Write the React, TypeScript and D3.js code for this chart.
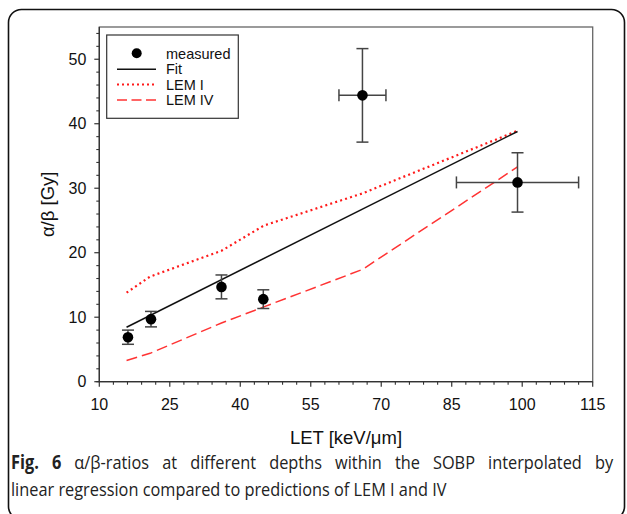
import React from "react";
import * as d3 from "d3";

const measuredLET = [16.1, 21.0, 36.0, 44.9, 66.0, 99.0];
const measuredAB = [6.9, 9.7, 14.7, 12.8, 44.4, 30.9];
const abErr = [1.1, 1.2, 1.85, 1.45, 7.25, 4.6];
const letErr = [0, 0, 0, 0, 5.0, 13.0];

const fitLET = [15.8, 99.0];
const fitAB = [8.45, 38.8];

const lemLET = [15.8, 20.8, 36.0, 45.0, 66.0, 99.0];
const lemI = [13.8, 16.3, 20.3, 24.2, 29.2, 38.9];
const lemIV = [3.3, 4.4, 9.1, 11.6, 17.4, 33.3];

const xMajor = [10, 25, 40, 55, 70, 85, 100, 115];
const yMajor = [0, 10, 20, 30, 40, 50];

const legendLabels = ["measured", "Fit", "LEM I", "LEM IV"];

const W = 627;
const H = 514;
const left = 99.3;
const right = 592.7;
const top = 27;
const bottom = 381.7;

export default function App() {
  const x = d3.scaleLinear().domain([10, 115]).range([left, right]);
  const y = d3.scaleLinear().domain([0, 55]).range([bottom, top]);

  const xMinor = d3.range(10, 115.01, 3).filter((v) => !xMajor.includes(v));
  const yMinor = d3.range(0, 55.01, 2).filter((v) => !yMajor.includes(v));

  const line = d3
    .line<[number, number]>()
    .x((d) => x(d[0]))
    .y((d) => y(d[1]));

  const fitPts: [number, number][] = fitLET.map((v, i) => [v, fitAB[i]]);
  const lemIPts: [number, number][] = lemLET.map((v, i) => [v, lemI[i]]);
  const lemIVPts: [number, number][] = lemLET.map((v, i) => [v, lemIV[i]]);

  const font = "Liberation Sans, Arial, sans-serif";
  const errColor = "#444";
  const sx = 0.86;

  return (
    <svg
      width={W}
      height={H}
      style={{ position: "absolute", left: 0, top: 0, background: "#fff" }}
    >
      <rect x={0} y={0} width={W} height={H} fill="#fff" />
      {/* outer rounded border */}
      <rect
        x={8.5}
        y={9.5}
        width={616}
        height={510}
        rx={13}
        ry={13}
        fill="none"
        stroke="#111"
        strokeWidth={1.6}
      />
      {/* frame */}
      <rect
        x={left}
        y={top}
        width={right - left}
        height={bottom - top}
        fill="none"
        stroke="#666"
        strokeWidth={1.3}
      />
      <line x1={left} x2={left} y1={top} y2={bottom} stroke="#333" strokeWidth={1.3} />
      <line x1={left - 3} x2={right} y1={bottom} y2={bottom} stroke="#333" strokeWidth={1.3} />

      {/* x ticks */}
      {xMajor.map((v) => (
        <g key={"xm" + v}>
          <line x1={x(v)} x2={x(v)} y1={bottom} y2={bottom + 5} stroke="#333" strokeWidth={1.2} />
          <text
            x={x(v)}
            y={bottom + 28}
            textAnchor="middle"
            fontFamily={font}
            fontSize={16}
            fill="#111"
          >
            {v}
          </text>
        </g>
      ))}
      {xMinor.map((v) => (
        <line key={"xn" + v} x1={x(v)} x2={x(v)} y1={bottom} y2={bottom + 3} stroke="#333" strokeWidth={1.1} />
      ))}

      {/* y ticks */}
      {yMajor.map((v) => (
        <g key={"ym" + v}>
          <line x1={left - 5} x2={left} y1={y(v)} y2={y(v)} stroke="#333" strokeWidth={1.2} />
          <text
            x={left - 13}
            y={y(v) + 5.5}
            textAnchor="end"
            fontFamily={font}
            fontSize={16}
            fill="#111"
          >
            {v}
          </text>
        </g>
      ))}
      {yMinor.map((v) => (
        <line key={"yn" + v} x1={left - 3} x2={left} y1={y(v)} y2={y(v)} stroke="#333" strokeWidth={1.1} />
      ))}

      {/* axis titles */}
      <text
        x={(left + right) / 2}
        y={444}
        textAnchor="middle"
        fontFamily={font}
        fontSize={18.5}
        fill="#111"
      >
        LET [keV/μm]
      </text>
      <text
        transform={`translate(54, ${(top + bottom) / 2}) rotate(-90)`}
        textAnchor="middle"
        fontFamily={font}
        fontSize={18.5}
        fill="#111"
      >
        α/β [Gy]
      </text>

      {/* model lines */}
      <path d={line(lemIPts) || ""} fill="none" stroke="#ff1a1a" strokeWidth={2.2} strokeDasharray="2,3.2" />
      <path d={line(lemIVPts) || ""} fill="none" stroke="#ff3333" strokeWidth={1.5} strokeDasharray="11,5" />
      <path d={line(fitPts) || ""} fill="none" stroke="#111" strokeWidth={1.5} />

      {/* error bars */}
      {measuredLET.map((v, i) => {
        const cx = x(v);
        const cy = y(measuredAB[i]);
        const y1 = y(measuredAB[i] + abErr[i]);
        const y2 = y(measuredAB[i] - abErr[i]);
        const cap = 6;
        return (
          <g key={"e" + i} stroke={errColor} strokeWidth={1.5}>
            <line x1={cx} x2={cx} y1={y1} y2={y2} />
            <line x1={cx - cap} x2={cx + cap} y1={y1} y2={y1} />
            <line x1={cx - cap} x2={cx + cap} y1={y2} y2={y2} />
            {letErr[i] > 0 && (
              <>
                <line x1={x(v - letErr[i])} x2={x(v + letErr[i])} y1={cy} y2={cy} />
                <line x1={x(v - letErr[i])} x2={x(v - letErr[i])} y1={cy - cap} y2={cy + cap} />
                <line x1={x(v + letErr[i])} x2={x(v + letErr[i])} y1={cy - cap} y2={cy + cap} />
              </>
            )}
          </g>
        );
      })}
      {measuredLET.map((v, i) => (
        <circle key={"p" + i} cx={x(v)} cy={y(measuredAB[i])} r={5.3} fill="#000" />
      ))}

      {/* legend */}
      <rect x={106.7} y={35} width={131.6} height={83.3} fill="#fff" stroke="#333" strokeWidth={1.2} />
      <circle cx={136.7} cy={53.3} r={5} fill="#000" />
      <line x1={117} x2={156} y1={69.3} y2={69.3} stroke="#111" strokeWidth={1.5} />
      <line x1={117} x2={156} y1={84.5} y2={84.5} stroke="#ff1a1a" strokeWidth={2} strokeDasharray="2,3" />
      <line x1={117} x2={156} y1={100} y2={100} stroke="#ff3333" strokeWidth={1.5} strokeDasharray="10,4.5" />
      {legendLabels.map((t, i) => (
        <text
          key={t}
          x={166}
          y={58.5 + i * 15.6}
          fontFamily={font}
          fontSize={14.5}
          fill="#111"
        >
          {t}
        </text>
      ))}

      {/* caption */}
      <g transform={`translate(11,0) scale(${sx},1)`}>
        <text x={0} y={469} fontFamily="Open Sans, sans-serif" fontSize={19} fill="#222" wordSpacing={10.3}>
          <tspan fontWeight="bold">Fig. 6</tspan>
          <tspan> α/β-ratios at different depths within the SOBP interpolated by</tspan>
        </text>
        <text x={0} y={496} fontFamily="Open Sans, sans-serif" fontSize={19} fill="#222">
          linear regression compared to predictions of LEM I and IV
        </text>
      </g>
    </svg>
  );
}
